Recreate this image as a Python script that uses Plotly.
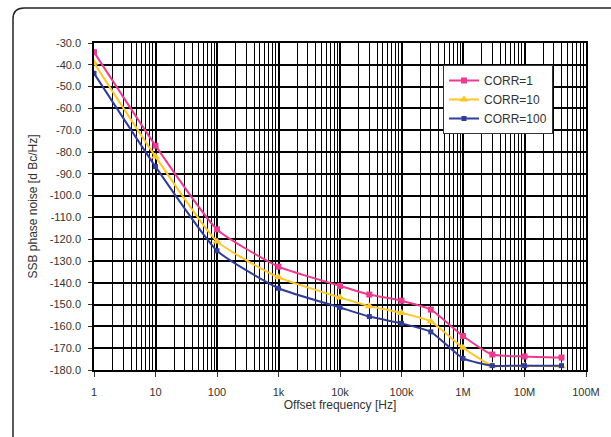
import plotly.graph_objects as go

freq = [1, 10, 100, 1e3, 1e4, 3e4, 1e5, 3e5, 1e6, 3e6, 1e7, 4e7]
corr1 = [-34.2, -77.1, -115.5, -132.6, -141.4, -145.4, -148.2, -152.3, -164.4, -172.9, -173.8, -174.3]
corr10 = [-39.1, -82.1, -121.0, -137.5, -146.7, -150.7, -153.8, -157.7, -169.8, -178.0, -178.0, -178.3]
corr100 = [-43.9, -86.7, -125.3, -142.5, -151.3, -155.5, -158.6, -162.5, -174.7, -178.0, -178.0, -178.0]

x_tickvals = [1, 10, 100, 1e3, 1e4, 1e5, 1e6, 1e7, 1e8]
x_ticktext = ["1", "10", "100", "1k", "10k", "100k", "1M", "10M", "100M"]
y_tickvals = list(range(-180, -29, 10))
y_ticktext = [f"{v:.1f}" for v in y_tickvals]

FONT = "Liberation Sans Narrow, Arial Narrow, Liberation Sans, sans-serif"

fig = go.Figure()
series = [
    ("CORR=1", corr1, "#EC3A8E", "square", 6),
    ("CORR=10", corr10, "#FFC629", "triangle-up", 8),
    ("CORR=100", corr100, "#303C97", "square", 5),
]
for name, ys, col, sym, sz in series:
    fig.add_trace(go.Scatter(
        x=freq, y=ys, name=name, mode="lines+markers",
        line=dict(color=col, width=2, shape="spline", smoothing=0.5),
        marker=dict(symbol=sym, size=sz, color=col),
    ))

W, H = 611, 437
L, R, T, B = 94, 25, 43, 67
pw, ph = W - L - R, H - T - B

def px(xp):
    return (xp - L) / pw

def py(yp):
    return (H - B - yp) / ph

x0, x1, y0, y1, r = 13, 640, 8, 460, 11
path = (f"M {px(x0)},{py(y1)} L {px(x0)},{py(y0 + r)} "
        f"Q {px(x0)},{py(y0)} {px(x0 + r)},{py(y0)} "
        f"L {px(x1)},{py(y0)}")

fig.update_layout(
    width=W, height=H,
    margin=dict(l=L, r=R, t=T, b=B),
    paper_bgcolor="white", plot_bgcolor="white",
    font=dict(family=FONT, size=11, color="#333333"),
    showlegend=True,
    legend=dict(
        x=px(443), y=py(65), xanchor="left", yanchor="top",
        bgcolor="white", bordercolor="#333333", borderwidth=1,
        font=dict(size=12, color="#333333"),
        itemwidth=30, tracegroupgap=2,
    ),
    shapes=[dict(type="path", path=path, xref="paper", yref="paper",
                 line=dict(color="#222222", width=1.5), layer="above")],
    xaxis=dict(
        type="log", range=[0, 8],
        tickvals=x_tickvals, ticktext=x_ticktext,
        showgrid=True, gridcolor="black", gridwidth=2,
        minor=dict(dtick="D1", showgrid=True, gridcolor="black", gridwidth=1, ticks=""),
        ticks="outside", ticklen=5, tickcolor="#333333",
        showline=True, linecolor="black", linewidth=1.5, mirror=True,
        ticklabelstandoff=6,
        title=dict(text="Offset frequency [Hz]", font=dict(size=12), standoff=4),
        zeroline=False,
    ),
    yaxis=dict(
        range=[-180, -30],
        tickvals=y_tickvals, ticktext=y_ticktext,
        showgrid=True, gridcolor="black", gridwidth=2,
        ticks="outside", ticklen=4, tickcolor="#333333",
        showline=True, linecolor="black", linewidth=1.5, mirror=True,
        ticklabelstandoff=5,
        title=dict(text="SSB phase noise [d Bc/Hz]", font=dict(size=12), standoff=10),
        zeroline=False,
    ),
)

fig.write_html("out.html")
